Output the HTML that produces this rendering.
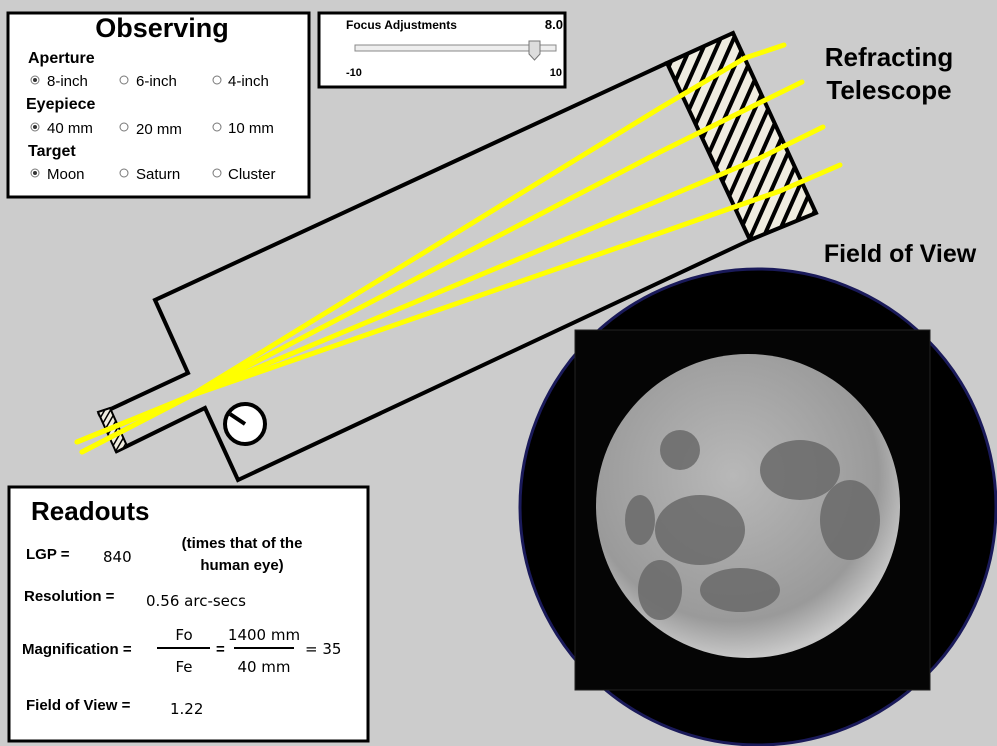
<!DOCTYPE html>
<html><head><style>
body{margin:0;background:#cccccc;}
svg{display:block;}
text{font-family:"Liberation Sans",sans-serif;}
.b{font-weight:bold;}
.r{font-family:"DejaVu Sans",sans-serif;font-size:15px;}
</style></head><body>
<svg width="997" height="746" viewBox="0 0 997 746" xmlns="http://www.w3.org/2000/svg">
<defs>
<pattern id="h" width="12" height="12" patternUnits="userSpaceOnUse" patternTransform="rotate(24)">
<rect width="12" height="12" fill="#efece0"/><rect x="0" width="4" height="12" fill="#000"/>
</pattern>
<pattern id="h2" width="5" height="5" patternUnits="userSpaceOnUse" patternTransform="rotate(30)">
<rect width="5" height="5" fill="#efece0"/><rect width="1.5" height="5" fill="#000"/>
</pattern>
<radialGradient id="mg" cx="0.45" cy="0.4" r="0.6">
<stop offset="0" stop-color="#b8b8b8"/><stop offset="0.8" stop-color="#9a9a9a"/><stop offset="1" stop-color="#c8c8c8"/>
</radialGradient>
</defs>
<rect width="997" height="746" fill="#cccccc"/>
<!-- Observing box -->
<rect x="8" y="13" width="301" height="184" fill="#fff" stroke="#000" stroke-width="3"/>
<text x="162" y="37" font-size="27" class="b" text-anchor="middle">Observing</text>
<text x="28" y="63" font-size="16" class="b">Aperture</text>
<text x="26" y="109" font-size="16" class="b">Eyepiece</text>
<text x="28" y="156" font-size="16" class="b">Target</text>
<g class="r">
<text x="47" y="86">8-inch</text><text x="136" y="86">6-inch</text><text x="228" y="86">4-inch</text>
<text x="47" y="133">40 mm</text><text x="136" y="134">20 mm</text><text x="228" y="133">10 mm</text>
<text x="47" y="179">Moon</text><text x="136" y="179">Saturn</text><text x="228" y="179">Cluster</text>
</g>
<g fill="#fff" stroke="#777" stroke-width="1">
<circle cx="35" cy="80" r="4"/><circle cx="124" cy="80" r="4"/><circle cx="217" cy="80" r="4"/>
<circle cx="35" cy="127" r="4"/><circle cx="124" cy="127" r="4"/><circle cx="217" cy="127" r="4"/>
<circle cx="35" cy="173" r="4"/><circle cx="124" cy="173" r="4"/><circle cx="217" cy="173" r="4"/>
</g>
<g fill="#333"><circle cx="35" cy="80" r="2"/><circle cx="35" cy="127" r="2"/><circle cx="35" cy="173" r="2"/></g>
<!-- Focus box -->
<rect x="319" y="13" width="246" height="74" fill="#fff" stroke="#000" stroke-width="3"/>
<text x="346" y="29" font-size="12" class="b" font-family="DejaVu Sans">Focus Adjustments</text>
<text x="565" y="29" font-size="13" class="b" text-anchor="end" dx="-2">8.0</text>
<rect x="355" y="45" width="201" height="6" fill="#eee" stroke="#888"/>
<path d="M529 41 h11 v13 l-5.5 6 l-5.5 -6 z" fill="#ddd" stroke="#777"/>
<text x="346" y="76" font-size="11" class="b" font-family="DejaVu Sans">-10</text>
<text x="562" y="76" font-size="11" class="b" font-family="DejaVu Sans" text-anchor="end">10</text>
<!-- Telescope -->
<g fill="none" stroke="#000" stroke-width="4" stroke-linejoin="miter">
<polyline points="667,63 155,300 188,373 98,415"/>
<polyline points="115,452 205,408 238,480 750,240"/>
</g>
<polygon points="98,412 110,408 127,446 116,452" fill="url(#h2)" stroke="#000" stroke-width="2"/>
<polygon points="667,63 733,33 816,213 750,240" fill="url(#h)" stroke="#000" stroke-width="4"/>
<circle cx="245" cy="424" r="20" fill="#fff" stroke="#000" stroke-width="4"/>
<line x1="245" y1="424" x2="230" y2="414" stroke="#000" stroke-width="4"/>
<!-- rays -->
<g stroke="#ffff00" stroke-width="5" fill="none" stroke-linecap="round" stroke-linejoin="round">
<polyline points="77,442 190,396 660,108 745,58 784,45"/>
<polyline points="82,452 190,396 660,152 745,110 802,82"/>
<polyline points="77,442 190,396 660,200 760,158 823,127"/>
<polyline points="82,452 190,396 660,233 780,191 840,165"/>
</g>
<text x="889" y="66" font-size="26" class="b" text-anchor="middle">Refracting</text>
<text x="889" y="99" font-size="26" class="b" text-anchor="middle">Telescope</text>
<text x="900" y="262" font-size="25" class="b" text-anchor="middle">Field of View</text>
<!-- FOV -->
<circle cx="758" cy="507" r="238" fill="#000" stroke="#1a1a5a" stroke-width="3"/>
<rect x="575" y="330" width="355" height="360" fill="#050505" stroke="#222"/>
<circle cx="748" cy="506" r="152" fill="url(#mg)"/>
<g fill="#6a6a6a" opacity="0.85">
<ellipse cx="700" cy="530" rx="45" ry="35"/>
<ellipse cx="740" cy="590" rx="40" ry="22"/>
<ellipse cx="660" cy="590" rx="22" ry="30"/>
<ellipse cx="800" cy="470" rx="40" ry="30"/>
<ellipse cx="850" cy="520" rx="30" ry="40"/>
<ellipse cx="680" cy="450" rx="20" ry="20"/>
<ellipse cx="640" cy="520" rx="15" ry="25"/>
</g>
<!-- Readouts -->
<rect x="9" y="487" width="359" height="254" fill="#fff" stroke="#000" stroke-width="3"/>
<text x="31" y="520" font-size="26" class="b">Readouts</text>
<text x="26" y="559" font-size="15" class="b">LGP  =</text>
<text x="103" y="562" class="r">840</text>
<text x="242" y="548" font-size="15" class="b" text-anchor="middle">(times that of the</text>
<text x="242" y="570" font-size="15" class="b" text-anchor="middle">human eye)</text>
<text x="24" y="601" font-size="15" class="b">Resolution  =</text>
<text x="146" y="606" class="r">0.56 arc-secs</text>
<text x="22" y="654" font-size="15" class="b">Magnification  =</text>
<line x1="157" y1="648" x2="210" y2="648" stroke="#000" stroke-width="2"/>
<text x="184" y="640" class="r" text-anchor="middle">Fo</text>
<text x="184" y="672" class="r" text-anchor="middle">Fe</text>
<text x="216" y="654" font-size="15" class="b">=</text>
<line x1="234" y1="648" x2="294" y2="648" stroke="#000" stroke-width="2"/>
<text x="264" y="640" class="r" text-anchor="middle">1400 mm</text>
<text x="264" y="672" class="r" text-anchor="middle">40 mm</text>
<text x="305" y="654" class="r">= 35</text>
<text x="26" y="710" font-size="15" class="b">Field of View  =</text>
<text x="170" y="714" class="r">1.22</text>
</svg>
</body></html>
